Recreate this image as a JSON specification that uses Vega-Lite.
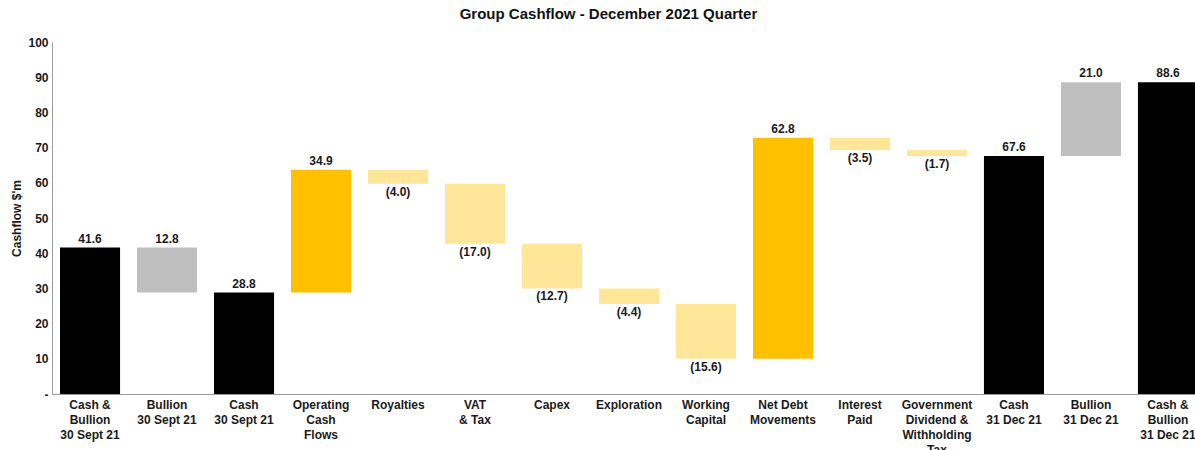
{
  "$schema": "https://vega.github.io/schema/vega-lite/v6.json",
  "width": 1143,
  "height": 352,
  "autosize": {"type": "none"},
  "padding": {"left": 52, "top": 42, "right": 0, "bottom": 56},
  "title": {
    "text": "Group Cashflow - December 2021 Quarter",
    "font": "Liberation Sans",
    "fontSize": 15,
    "fontWeight": "bold",
    "color": "#111111",
    "anchor": "middle",
    "dx": -15,
    "offset": 14
  },
  "config": {
    "view": {"stroke": null},
    "font": "Liberation Sans",
    "axis": {"grid": false, "ticks": false, "domainColor": "#9a9a9a", "labelFont": "Liberation Sans", "labelFontWeight": "bold", "labelFontSize": 12, "labelColor": "#1a1a1a", "titleFont": "Liberation Sans"},
    "axisY": {"labelOverlap": false, "labelPadding": 4, "titleFontSize": 12, "titleFontWeight": "bold", "titleColor": "#1a1a1a", "titlePadding": 4}
  },
  "data": {
    "values": [
      {"cat": "Cash &|Bullion|30 Sept 21", "start": 0, "end": 41.6, "kind": "total", "label": "41.6"},
      {"cat": "Bullion|30 Sept 21", "start": 28.8, "end": 41.6, "kind": "bullion", "label": "12.8"},
      {"cat": "Cash|30 Sept 21", "start": 0, "end": 28.8, "kind": "total", "label": "28.8"},
      {"cat": "Operating|Cash|Flows", "start": 28.8, "end": 63.7, "kind": "increase", "label": "34.9"},
      {"cat": "Royalties", "start": 59.7, "end": 63.7, "kind": "decrease", "label": "(4.0)"},
      {"cat": "VAT|& Tax", "start": 42.7, "end": 59.7, "kind": "decrease", "label": "(17.0)"},
      {"cat": "Capex", "start": 30.0, "end": 42.7, "kind": "decrease", "label": "(12.7)"},
      {"cat": "Exploration", "start": 25.6, "end": 30.0, "kind": "decrease", "label": "(4.4)"},
      {"cat": "Working|Capital", "start": 10.0, "end": 25.6, "kind": "decrease", "label": "(15.6)"},
      {"cat": "Net Debt|Movements", "start": 10.0, "end": 72.8, "kind": "increase", "label": "62.8"},
      {"cat": "Interest|Paid", "start": 69.3, "end": 72.8, "kind": "decrease", "label": "(3.5)"},
      {"cat": "Government|Dividend &|Withholding|Tax", "start": 67.6, "end": 69.3, "kind": "decrease", "label": "(1.7)"},
      {"cat": "Cash|31 Dec 21", "start": 0, "end": 67.6, "kind": "total", "label": "67.6"},
      {"cat": "Bullion|31 Dec 21", "start": 67.6, "end": 88.6, "kind": "bullion", "label": "21.0"},
      {"cat": "Cash &|Bullion|31 Dec 21", "start": 0, "end": 88.6, "kind": "total", "label": "88.6"}
    ]
  },
  "encoding": {
    "x": {
      "field": "cat",
      "type": "nominal",
      "sort": null,
      "scale": {"range": [0, 1154], "paddingInner": 0.22, "paddingOuter": 0.104},
      "axis": {"title": null, "labelAngle": 0, "labelPadding": 5, "labelLineHeight": 15, "labelExpr": "split(datum.label, '|')", "labelLimit": 200, "labelOverlap": false}
    }
  },
  "layer": [
    {
      "mark": {"type": "bar"},
      "encoding": {
        "y": {
          "field": "start",
          "type": "quantitative",
          "scale": {"domain": [0, 100], "nice": false},
          "axis": {"title": "Cashflow $'m", "tickCount": 11, "values": [0, 10, 20, 30, 40, 50, 60, 70, 80, 90, 100], "labelOverlap": false, "labelExpr": "datum.value == 0 ? '-' : datum.label"}
        },
        "y2": {"field": "end"},
        "color": {
          "field": "kind",
          "type": "nominal",
          "scale": {"domain": ["total", "bullion", "increase", "decrease"], "range": ["#000000", "#bfbfbf", "#ffc000", "#ffe699"]},
          "legend": null
        }
      }
    },
    {
      "transform": [{"filter": "datum.kind != 'decrease'"}],
      "mark": {"type": "text", "baseline": "bottom", "dy": -2, "fontSize": 12, "fontWeight": "bold", "color": "#1a1a1a"},
      "encoding": {
        "y": {"field": "end", "type": "quantitative", "axis": {"title": "Cashflow $'m", "tickCount": 11, "values": [0, 10, 20, 30, 40, 50, 60, 70, 80, 90, 100], "labelOverlap": false, "labelExpr": "datum.value == 0 ? '-' : datum.label"}},
        "text": {"field": "label"}
      }
    },
    {
      "transform": [{"filter": "datum.kind == 'decrease'"}],
      "mark": {"type": "text", "baseline": "top", "dy": 3, "fontSize": 12, "fontWeight": "bold", "color": "#1a1a1a"},
      "encoding": {
        "y": {"field": "start", "type": "quantitative", "axis": {"title": "Cashflow $'m", "tickCount": 11, "values": [0, 10, 20, 30, 40, 50, 60, 70, 80, 90, 100], "labelOverlap": false, "labelExpr": "datum.value == 0 ? '-' : datum.label"}},
        "text": {"field": "label"}
      }
    }
  ]
}
